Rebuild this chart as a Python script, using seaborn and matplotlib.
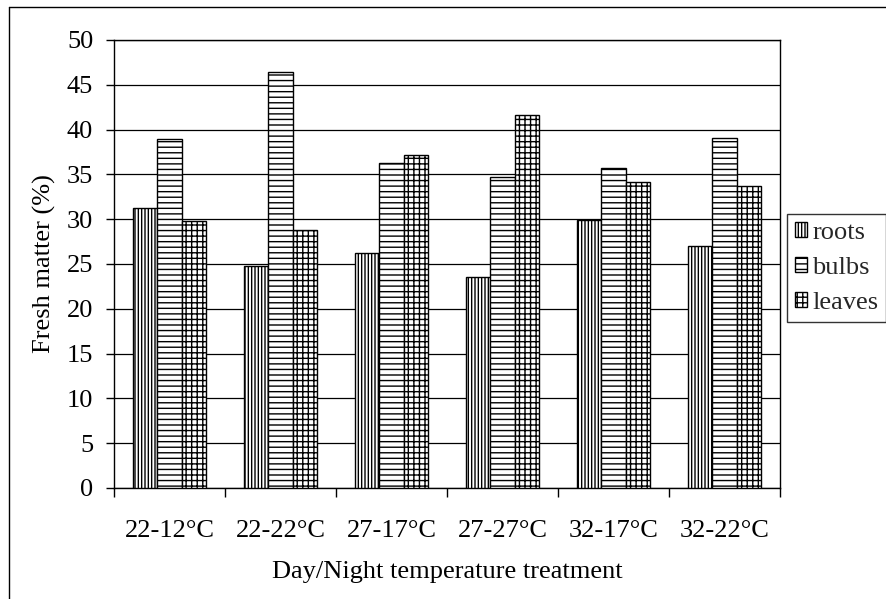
import matplotlib
matplotlib.use("Agg")
import matplotlib.pyplot as plt
import seaborn as sns
import pandas as pd
import numpy as np
from matplotlib.patches import Patch
from matplotlib.lines import Line2D

categories = ["22-12°C", "22-22°C", "27-17°C", "27-27°C", "32-17°C", "32-22°C"]
parts = ["roots", "bulbs", "leaves"]
roots = [31.2, 24.8, 26.2, 23.6, 29.9, 27.0]
bulbs = [38.9, 46.4, 36.3, 34.7, 35.7, 39.1]
leaves = [29.8, 28.8, 37.2, 41.6, 34.1, 33.7]

rows = []
for part, vals in zip(parts, [roots, bulbs, leaves]):
    for c, v in zip(categories, vals):
        rows.append({"treatment": c, "part": part, "value": v})
df = pd.DataFrame(rows)

sns.set_theme(style="white")
plt.rcParams["font.family"] = ["Liberation Serif", "DejaVu Serif"]
plt.rcParams["hatch.linewidth"] = 1.0
plt.rcParams["hatch.color"] = "black"

FS = 19
W, H = 886, 599
fig = plt.figure(figsize=(W / 100, H / 100), dpi=100)
fig.patch.set_facecolor("white")
L, R, T, B = 114, 780, 40, 488
ax = fig.add_axes([L / W, 1 - B / H, (R - L) / W, (B - T) / H])

sns.barplot(data=df, x="treatment", y="value", hue="part", order=categories,
            hue_order=parts, width=0.666, ax=ax, legend=False,
            palette=["white"] * 3, edgecolor="black",
            linewidth=1.0, zorder=3)

hatches = ["|||||", "---", "+++"]
for cont, h in zip(ax.containers, hatches):
    for p in cont:
        p.set_hatch(h)
        p.set_facecolor("white")
        p.set_edgecolor("black")
        p.set_zorder(3)

ax.set_ylim(0, 50)
ax.set_xlim(-0.5, 5.5)
ax.set_yticks(np.arange(0, 51, 5))
ax.yaxis.grid(True, color="black", linewidth=0.9)
ax.set_axisbelow(True)
ax.set_xlabel("")
ax.set_ylabel("")

ax.set_xticks(range(len(categories)))
ax.set_xticklabels(categories)
ax.set_xticks(np.arange(-0.5, 6.0, 1.0), minor=True)
ax.tick_params(axis="x", which="major", length=0, pad=23, labelsize=FS, colors="black")
ax.tick_params(axis="x", which="minor", length=6.5, width=1.0, direction="out", color="black")
ax.tick_params(axis="y", which="major", length=6, width=1.0, direction="out", pad=9,
               labelsize=FS, colors="black", left=True)
ax.tick_params(axis="x", bottom=True, which="both")

for s in ["left", "bottom", "right", "top"]:
    ax.spines[s].set_visible(True)
    ax.spines[s].set_color("black")
    ax.spines[s].set_linewidth(1.0)

fig.text(447 / W, 1 - 572 / H, "Day/Night temperature treatment", ha="center", va="center",
         fontsize=FS, color="black")
fig.text(44 / W, 1 - 264 / H, "Fresh matter (%)", ha="center", va="center", rotation=90,
         fontsize=FS, color="black")

handles = [Patch(facecolor="white", edgecolor="black", hatch=h, linewidth=1.0) for h in hatches]
leg = fig.legend(handles, parts, loc="center left", bbox_to_anchor=(787 / W, 1 - 268 / H),
                 bbox_transform=fig.transFigure, frameon=True, fancybox=False,
                 edgecolor="black", fontsize=FS, handlelength=0.45, handleheight=0.5,
                 handletextpad=0.2, borderpad=0.3, labelspacing=0.5, borderaxespad=0)
leg.get_frame().set_linewidth(1.0)

fig.add_artist(Line2D([8.5 / W, 8.5 / W], [1 - 7 / H, 0], transform=fig.transFigure,
                      color="black", linewidth=1.0))
fig.add_artist(Line2D([8.5 / W, 1], [1 - 7 / H, 1 - 7 / H], transform=fig.transFigure,
                      color="black", linewidth=1.0))

fig.savefig("out.png", dpi=100, facecolor="white")
